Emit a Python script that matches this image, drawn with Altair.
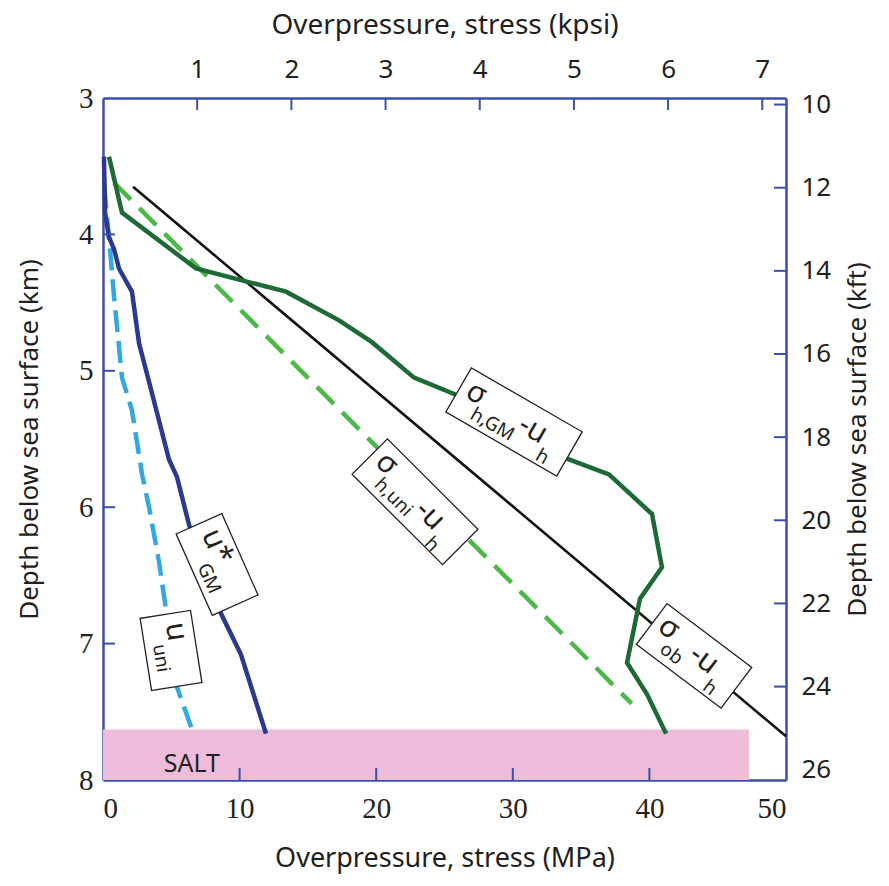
import altair as alt
import pandas as pd

# ---------------- data ----------------
# sigma_ob - u_h (black)
ob_mpa = [2.2, 50.0]
ob_km = [3.65, 7.68]
# sigma_h,uni - u_h (light green dashed)
huni_mpa = [0.8, 38.7]
huni_km = [3.62, 7.44]
# sigma_h,GM - u_h (dark green)
hgm_mpa = [0.44, 1.39, 6.81, 13.40, 17.28, 19.69, 22.77, 25.70, 34.11, 37.04,
           40.19, 40.92, 39.31, 38.36, 39.82, 41.22]
hgm_km = [3.43, 3.84, 4.25, 4.42, 4.63, 4.79, 5.05, 5.17, 5.65, 5.76,
          6.05, 6.44, 6.67, 7.14, 7.37, 7.66]
# u*_GM (dark blue)
ugm_mpa = [0.07, 0.15, 0.44, 0.81, 1.17, 2.12, 2.64, 3.37, 4.83, 5.42, 6.30, 8.64, 10.10, 11.93]
ugm_km = [3.43, 3.84, 4.02, 4.11, 4.25, 4.42, 4.80, 5.08, 5.65, 5.78, 6.13, 6.78, 7.08, 7.66]
# u_uni (light blue dashed)
uuni_mpa = [0.10, 0.29, 0.59, 0.81, 1.10, 1.39, 2.12, 2.86, 3.37, 4.10, 4.61, 5.42, 6.66]
uuni_km = [3.65, 3.87, 4.20, 4.46, 4.75, 5.05, 5.29, 5.76, 6.00, 6.40, 6.75, 7.32, 7.67]

# salt layer
salt_mpa = [0.0, 47.3]
salt_km = [7.63, 8.0]
salt_label = "SALT"
salt_label_pos = [6.5, 7.88]

# ticks
mpa_ticks = [0, 10, 20, 30, 40, 50]
km_ticks = [3, 4, 5, 6, 7, 8]
kpsi_ticks = [1, 2, 3, 4, 5, 6, 7]
kft_ticks = [10, 12, 14, 16, 18, 20, 22, 24, 26]
inner_mpa_ticks = [10, 20, 30, 40]
inner_km_ticks = [4, 5, 6, 7]
MPA_PER_KPSI = 6.894757
KM_PER_KFT = 0.3048

# curve labels: anchor (MPa, km) and text pieces
label_names = ["hGM", "huni", "ob", "ugm", "uuni"]
label_mpa = [30.09, 22.84, 43.27, 8.35, 4.98]
label_km = [5.375, 5.96, 7.09, 6.42, 7.05]
label_texts = {
    "hGM": ["σ", "h,GM", "-u", "h"],
    "huni": ["σ", "h,uni", "-u", "h"],
    "ob": ["σ", "ob", "-u", "h"],
    "ugm": ["u*", "GM"],
    "uuni": ["u", "uni"],
}

# ---------------- styles ----------------
W, H = 683, 682
AX = "#3C4DAB"
INK = "#231F20"
FONT = "Noto Sans"
SERIF = "Liberation Serif"

# box geometry (width, height, angle) and text layout (size, dx, dy)
box_style = {
    "hGM": (128, 51, 30),
    "huni": (128, 50, 45),
    "ob": (106, 51, 37),
    "ugm": (89, 50, 66),
    "uuni": (73, 51, 81),
}
text_style = {
    "hGM": [(30, -56, 3), (19, -41, 19), (30, 6, 6), (19, 36, 22)],
    "huni": [(30, -56, 2), (19, -41, 18), (30, 6, 8), (19, 36, 24)],
    "ob": [(30, -46, 2), (19, -31, 18), (30, -4, 6), (19, 26, 22)],
    "ugm": [(30, -34, 2), (19, -6, 19)],
    "uuni": [(30, -27, 1), (19, -8, 17)],
}

xs = alt.Scale(domain=[0, 50], nice=False, zero=False)
ys = alt.Scale(domain=[3, 8], reverse=True, nice=False, zero=False)
xs2 = alt.Scale(domain=[0, 50 / MPA_PER_KPSI], nice=False, zero=False)
ys2 = alt.Scale(domain=[3 / KM_PER_KFT, 8 / KM_PER_KFT], reverse=True, nice=False, zero=False)

common_axis = dict(grid=False, ticks=False, domainColor=AX, domainWidth=2.5,
                   labelColor=INK, titleColor=INK, titleFont=FONT,
                   titleFontWeight="normal")

x_axis = alt.Axis(orient="bottom", title="Overpressure, stress (MPa)", values=mpa_ticks,
                  format="d", labelFont=SERIF, labelFontSize=29, labelPadding=14,
                  titleFontSize=27, titlePadding=22, **common_axis)
y_axis = alt.Axis(orient="left", title="Depth below sea surface (km)", values=km_ticks,
                  format="d", labelFont=SERIF, labelFontSize=29, labelPadding=10,
                  titleFontSize=26, titlePadding=36, **common_axis)
x2_axis = alt.Axis(orient="top", title="Overpressure, stress (kpsi)", values=kpsi_ticks,
                   format="d", labelFont=FONT, labelFontSize=26, labelPadding=16,
                   titleFontSize=28, titlePadding=17, **common_axis)
y2_axis = alt.Axis(orient="right", title="Depth below sea surface (kft)", values=kft_ticks,
                   format="d", labelFont=FONT, labelFontSize=26, labelPadding=15,
                   titleFontSize=26, titlePadding=14, titleAngle=270,
                   titleBaseline="top", **common_axis)


def X(field="x"):
    return alt.X(f"{field}:Q", scale=xs, axis=x_axis, title="Overpressure, stress (MPa)")


def Y(field="y"):
    return alt.Y(f"{field}:Q", scale=ys, axis=y_axis, title="Depth below sea surface (km)")


def X2():
    return alt.X("kpsi:Q", scale=xs2, axis=x2_axis, title="Overpressure, stress (kpsi)")


def Y2():
    return alt.Y("kft:Q", scale=ys2, axis=y2_axis, title="Depth below sea surface (kft)")


def series(mpa, km):
    return pd.DataFrame({"x": mpa, "y": km, "i": list(range(len(mpa)))})


# salt
salt = alt.Chart(pd.DataFrame({"x": [salt_mpa[0]], "x2": [salt_mpa[1]],
                               "y": [salt_km[0]], "y2": [salt_km[1]]})).mark_rect(
    color="#ECBCD9").encode(x=X(), x2="x2:Q", y=Y(), y2="y2:Q")
salt_text = alt.Chart(pd.DataFrame({"x": [salt_label_pos[0]], "y": [salt_label_pos[1]],
                                    "t": [salt_label]})).mark_text(
    font=FONT, fontSize=25, color=INK).encode(x=X(), y=Y(), text="t:N")


def line(mpa, km, color, width, dash=None):
    kw = dict(color=color, strokeWidth=width, strokeJoin="miter", strokeCap="butt")
    if dash:
        kw["strokeDash"] = dash
    return alt.Chart(series(mpa, km)).mark_line(**kw).encode(x=X(), y=Y(), order="i:Q")


lines = [
    line(ob_mpa, ob_km, "#111111", 2.6),
    line(huni_mpa, huni_km, "#4CB847", 4.5, [24, 12]),
    line(hgm_mpa, hgm_km, "#1D6A36", 4.5),
    line(uuni_mpa, uuni_km, "#33A8E0", 4.5, [22, 9]),
    line(ugm_mpa, ugm_km, "#2B3990", 4.5),
]

# inward ticks (left and bottom)
left_ticks = alt.Chart(pd.DataFrame({"y": inner_km_ticks})).mark_rule(
    color=AX, strokeWidth=2).encode(y=Y(), x=alt.value(0), x2=alt.value(12))
bottom_ticks = alt.Chart(pd.DataFrame({"x": inner_mpa_ticks})).mark_rule(
    color=AX, strokeWidth=2).encode(x=X(), y=alt.value(H - 12), y2=alt.value(H))

# label boxes and texts
label_layers = []
for name, lx, ly in zip(label_names, label_mpa, label_km):
    bw, bh, ang = box_style[name]
    r = bh / bw
    path = f"M-1,{-r:.4f}L1,{-r:.4f}L1,{r:.4f}L-1,{r:.4f}Z"
    df = pd.DataFrame({"x": [lx], "y": [ly]})
    label_layers.append(
        alt.Chart(df).mark_point(shape=path, size=bw * bw, angle=ang, filled=True,
                                 fill="white", stroke=INK, strokeWidth=1.3,
                                 opacity=1).encode(x=X(), y=Y()))
    for txt, (fs, dx, dy) in zip(label_texts[name], text_style[name]):
        label_layers.append(
            alt.Chart(df).mark_text(text=txt, angle=ang, dx=dx, dy=dy, fontSize=fs,
                                    font=FONT, color=INK, align="left",
                                    baseline="alphabetic").encode(x=X(), y=Y()))

main = alt.layer(salt, salt_text, *lines, left_ticks, bottom_ticks, *label_layers)

# secondary axes (kpsi top, kft right)
sec_pts = alt.Chart(pd.DataFrame({"kpsi": [0, 50 / MPA_PER_KPSI],
                                  "kft": [3 / KM_PER_KFT, 8 / KM_PER_KFT]})).mark_point(
    opacity=0).encode(x=X2(), y=Y2())
top_ticks = alt.Chart(pd.DataFrame({"kpsi": kpsi_ticks})).mark_rule(
    color=AX, strokeWidth=2).encode(x=X2(), y=alt.value(0), y2=alt.value(12))
right_ticks = alt.Chart(pd.DataFrame({"kft": kft_ticks[:-1]})).mark_rule(
    color=AX, strokeWidth=2).encode(y=Y2(), x=alt.value(W - 12), x2=alt.value(W))
secondary = alt.layer(sec_pts, top_ticks, right_ticks)

chart = alt.layer(main, secondary).resolve_scale(
    x="independent", y="independent"
).properties(
    width=W, height=H, padding={"left": 8, "top": 3, "right": 6, "bottom": 3},
    background="white"
).configure_view(stroke=None)

chart.save("out.html", embed_options={"renderer": "svg", "actions": False})
